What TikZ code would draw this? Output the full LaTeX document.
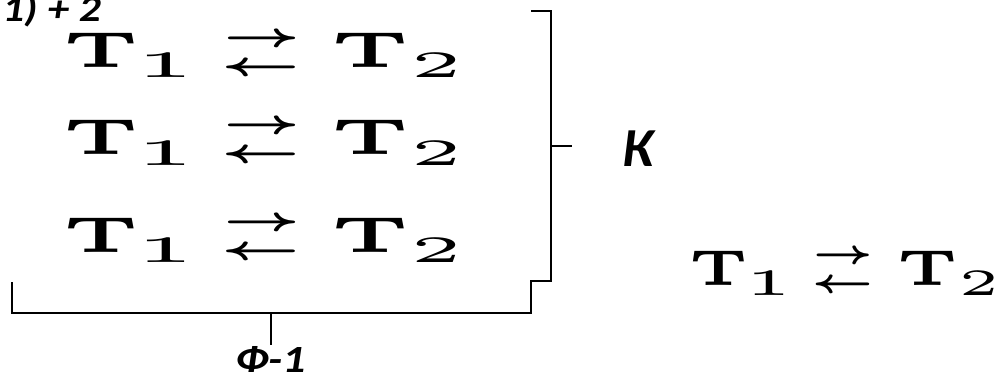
\documentclass[tikz,border=0pt]{standalone}
\usepackage[no-math]{fontspec}
\usepackage{amsmath}
\usepackage{amssymb}
\usepackage{graphicx}
\newfontfamily\labfont{Carlito}
% one piece of a reaction line, placed at a fixed offset
\newcommand{\pc}[3]{\makebox[0pt][l]{\hspace*{#1}\raisebox{#2}{#3}}}
\newcommand{\rxn}{\makebox[390pt][l]{%
 \pc{-3.8pt}{0pt}{\resizebox{75.5pt}{35pt}{$\mathbf{T}$}}%
 \pc{67pt}{-10pt}{\resizebox{61.5pt}{24pt}{$\mathrm{1}$}}%
 \pc{155pt}{21.9pt}{\resizebox{79pt}{6.5\height}{$\boldsymbol{\rightarrow}$}}%
 \pc{153pt}{-7.6pt}{\resizebox{81pt}{6.5\height}{$\boldsymbol{\leftarrow}$}}%
 \pc{264pt}{0pt}{\resizebox{77.8pt}{35pt}{$\mathbf{T}$}}%
 \pc{342.7pt}{-10pt}{\resizebox{52.5pt}{24pt}{$\mathrm{2}$}}%
}}
\tikzset{
  eq/.style={inner sep=0pt, anchor=base west, font=\fontsize{5}{6}\selectfont},
  lab/.style={inner sep=0pt, anchor=base west, font=\labfont\bfseries\itshape},
  brk/.style={line width=2pt, line join=miter, black}
}
\begin{document}
\begin{tikzpicture}[x=1pt,y=-1pt]
\useasboundingbox (0,0) rectangle (1003,379);
% reactions
\node[eq] (r1) at (67,68) {\rxn};
\node[eq] (r2) at (67,155) {\rxn};
\node[eq] (r3) at (67,252) {\rxn};
\node[eq] (r4) at (692,285) {\scalebox{0.777}[1]{\rxn}};
% brackets
\coordinate (rt) at (531,11);
\coordinate (rb) at (531,281);
\coordinate (bl) at (12,282);
\coordinate (kt) at (551,146);
\coordinate (ft) at (271,313);
\draw[brk] (rt) -- (551,11) -- (551,281) -- (rb) -- (531,313) -- (12,313) -- (bl);
\draw[brk] (kt) -- ++(21,0);
\draw[brk] (ft) -- ++(0,32);
% labels
\node[lab, font=\labfont\bfseries\itshape\fontsize{55}{60}\selectfont] (k) at (622,167) {К};
\node[lab, font=\labfont\bfseries\itshape\fontsize{38.5}{40}\selectfont] (f) at (235,372) {\scalebox{1.2}[1]{Ф-1}};
\node[lab, font=\labfont\bfseries\itshape\fontsize{37}{40}\selectfont, anchor=base east] (top) at (101,22) {\scalebox{1.17}[1]{1) + 2}};
\end{tikzpicture}
\end{document}
